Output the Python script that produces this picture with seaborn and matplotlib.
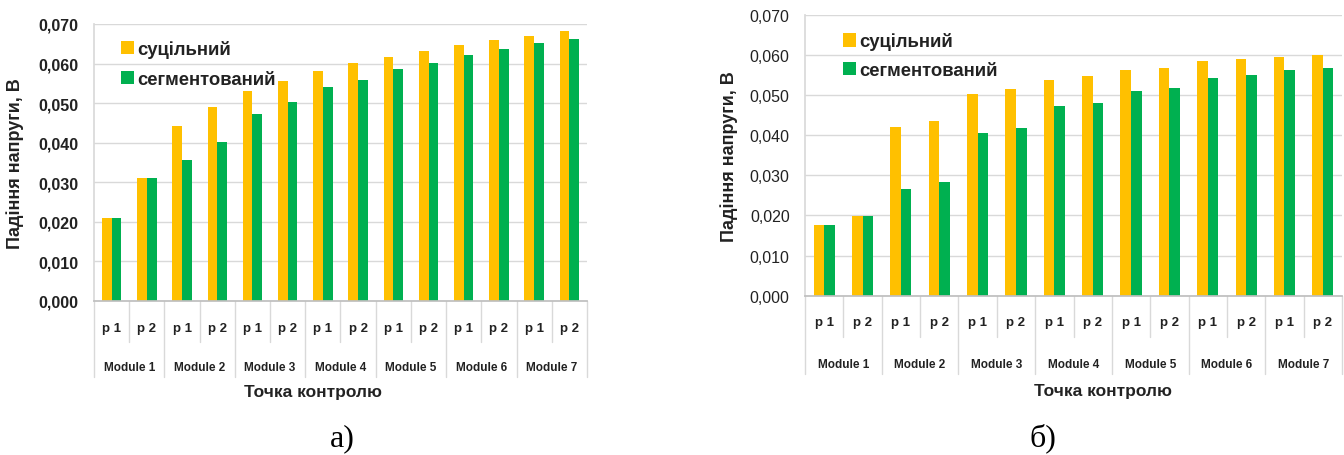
import numpy as np
import pandas as pd
import matplotlib
matplotlib.use("Agg")
import matplotlib.pyplot as plt
import matplotlib.transforms as mtrans
from matplotlib.ticker import FuncFormatter, MultipleLocator
import seaborn as sns

# ---------------- data ----------------
modules = ["Module 1", "Module 2", "Module 3", "Module 4", "Module 5", "Module 6", "Module 7"]
points = ["p 1", "p 2"]
series = ["суцільний", "сегментований"]

a_solid = [0.0211, 0.0312, 0.0442, 0.0489, 0.0530, 0.0556, 0.0580, 0.0601,
           0.0616, 0.0632, 0.0648, 0.0659, 0.0670, 0.0683]
a_segm = [0.0211, 0.0312, 0.0356, 0.0403, 0.0472, 0.0503, 0.0540, 0.0559,
          0.0587, 0.0601, 0.0622, 0.0636, 0.0652, 0.0662]
b_solid = [0.0175, 0.0199, 0.0421, 0.0435, 0.0502, 0.0514, 0.0537, 0.0548,
           0.0561, 0.0567, 0.0584, 0.0590, 0.0594, 0.0600]
b_segm = [0.0175, 0.0199, 0.0266, 0.0282, 0.0405, 0.0419, 0.0473, 0.0480,
          0.0511, 0.0518, 0.0542, 0.0550, 0.0561, 0.0567]

ylabel = "Падіння напруги, В"
xlabel = "Точка контролю"
panel_labels = ["а)", "б)"]

YELLOW = "#FFC000"
GREEN = "#00B050"
GRID = "#D9D9D9"

sns.set_theme(style="white")
plt.rcParams["font.family"] = ["Liberation Sans", "DejaVu Sans"]

cat_keys = [f"{m}|{p}" for m in modules for p in points]


def make_df(solid, segm):
    rows = []
    for k, v in zip(cat_keys, solid):
        rows.append({"cat": k, "val": v, "type": series[0]})
    for k, v in zip(cat_keys, segm):
        rows.append({"cat": k, "val": v, "type": series[1]})
    return pd.DataFrame(rows)


fig = plt.figure(figsize=(13.44, 4.56), dpi=100)

W, H = 1344.0, 456.0
specs = [
    dict(left=94, right=587, top=25, bottom=302, solid=a_solid, segm=a_segm,
         bold_ticks=True, ylab_x=24, leg=(0.021, 1.003), legsp=0.72,
         plabel=329, psep=343, mlabel=368, msep=378, xlab=(313, 393),
         panel=(342, 439)),
    dict(left=805, right=1342, top=15.7, bottom=296.7, solid=b_solid, segm=b_segm,
         bold_ticks=False, ylab_x=738, leg=(0.040, 0.996), legsp=0.62,
         plabel=323, psep=338, mlabel=365, msep=375, xlab=(1103, 392),
         panel=(1043, 438)),
]

for i, s in enumerate(specs):
    ax = fig.add_axes([s["left"] / W, (H - s["bottom"]) / H,
                       (s["right"] - s["left"]) / W, (s["bottom"] - s["top"]) / H])
    df = make_df(s["solid"], s["segm"])
    sns.barplot(data=df, x="cat", y="val", hue="type", order=cat_keys,
                hue_order=series, palette=[YELLOW, GREEN], width=0.55,
                linewidth=0, saturation=1, ax=ax, errorbar=None)
    ax.set_xlim(-0.5, len(cat_keys) - 0.5)
    ax.set_ylim(0, 0.070)
    ax.yaxis.set_major_locator(MultipleLocator(0.010))
    ax.yaxis.set_major_formatter(FuncFormatter(lambda v, p: f"{v:.3f}".replace(".", ",")))
    ax.set_axisbelow(True)
    ax.grid(axis="y", color=GRID, linewidth=1.0)
    for side in ["top", "right"]:
        ax.spines[side].set_visible(False)
    ax.spines["left"].set_color(GRID)
    ax.spines["bottom"].set_color("#BFBFBF")
    ax.tick_params(axis="y", length=6, color=GRID, pad=5, labelsize=11.5,
                   labelcolor="#222222")
    for t in ax.get_yticklabels():
        t.set_fontweight("bold" if s["bold_ticks"] else "normal")
    ax.set_xticks([])
    ax.set_xlabel("")
    ax.set_ylabel(ylabel, fontsize=13, fontweight="bold", color="#222222")
    ax.yaxis.set_label_coords((s["ylab_x"] - s["left"]) / (s["right"] - s["left"]), 0.5)

    # legend
    handles, labels = ax.get_legend_handles_labels()
    leg = ax.legend(handles, labels, loc="upper left", bbox_to_anchor=s["leg"],
                    frameon=False, handlelength=0.72, handleheight=0.72,
                    handletextpad=0.15, labelspacing=s["legsp"],
                    prop={"size": 13.3, "weight": "bold"})
    for t in leg.get_texts():
        t.set_color("#222222")

    # category area below axes
    h = s["bottom"] - s["top"]
    fr = lambda ypx: (s["bottom"] - ypx) / h
    trans = mtrans.blended_transform_factory(ax.transData, ax.transAxes)
    n = len(cat_keys)
    for k in range(n + 1):
        xb = k - 0.5
        ybot = fr(s["msep"]) if k % 2 == 0 else fr(s["psep"])
        ax.plot([xb, xb], [0, ybot], transform=trans, color=GRID, lw=1.0,
                clip_on=False)
    for k, key in enumerate(cat_keys):
        ax.text(k, fr(s["plabel"]), key.split("|")[1], transform=trans,
                ha="center", va="center", fontsize=9.5, fontweight="bold",
                color="#222222")
    for m, name in enumerate(modules):
        ax.text(2 * m + 0.5, fr(s["mlabel"]), name, transform=trans,
                ha="center", va="center", fontsize=8.5, fontweight="bold",
                color="#222222")
    fig.text(s["xlab"][0] / W, (H - s["xlab"][1]) / H, xlabel, ha="center",
             va="center", fontsize=12.5, fontweight="bold", color="#222222")

    fig.text(s["panel"][0] / W, (H - s["panel"][1]) / H, panel_labels[i],
             ha="center", va="center", fontsize=23,
             family=["Liberation Serif", "DejaVu Serif"], color="black")

fig.savefig("out.png", dpi=100, facecolor="white")
